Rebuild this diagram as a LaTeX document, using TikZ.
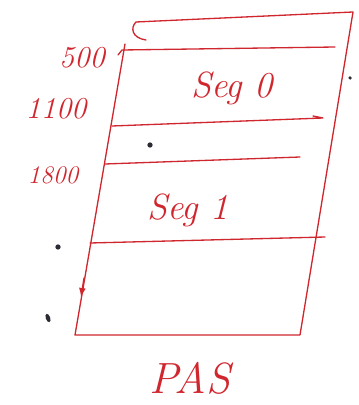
\documentclass[tikz,border=0pt]{standalone}
\usepackage{tikz}
\usetikzlibrary{arrows.meta,positioning,shapes.geometric}
\definecolor{penRed}{HTML}{D0262E}
\definecolor{inkDark}{HTML}{2B2B35}

\begin{document}
\begin{tikzpicture}[x=0.02cm, y=-0.02cm,
  pen/.style={draw=penRed, line width=0.75pt, line join=round, line cap=round},
  hand/.style={text=penRed, font=\itshape, inner sep=1pt},
  speck/.style={circle, fill=inkDark, inner sep=0pt, minimum size=3pt}]
\useasboundingbox (0,0) rectangle (358,405);
% corners of the address space
\coordinate (tl) at (136,22);
\coordinate (tr) at (353,12);
\coordinate (br) at (300,335);
\coordinate (bl) at (75,335);
\coordinate (lt) at (125,44);
% outline
\draw[pen] (146,40) .. controls (132,38) and (130,28) .. (tl) -- (tr) -- (br) -- (bl) -- (lt);
\draw[pen, -{Latex[length=1.8mm, width=1.4mm]}] (84,278) -- (81,297);
% segment boundaries
\draw[pen] (118,55) -- (122,50) -- (335,47);
\draw[pen] (112,126) -- (323,118) -- (313,116);
\draw[pen] (105,164) -- (300,157);
\draw[pen] (90,243) -- (325,237);
% labels
\node[hand, font=\LARGE\itshape] (m500) at (82,58) {500};
\node[hand, font=\LARGE\itshape] (m1100) at (56,109) {1100};
\node[hand, font=\Large\itshape] (m1800) at (53,175) {1800};
\node[hand, font=\huge\itshape] (seg0) at (232,88) {Seg 0};
\node[hand, font=\huge\itshape] (seg1) at (188,210) {Seg 1};
\node[hand, font=\Huge\itshape] (pas) at (190,378) {PAS};
% stray marks
\node[speck] (d1) at (150,145) {};
\node[speck] (d2) at (58,247) {};
\node[speck, minimum size=2pt] (d3) at (350,78) {};
\node[speck, ellipse, minimum width=2.5pt, minimum height=5pt, rotate=20] (d4) at (48,318) {};
\end{tikzpicture}
\end{document}
